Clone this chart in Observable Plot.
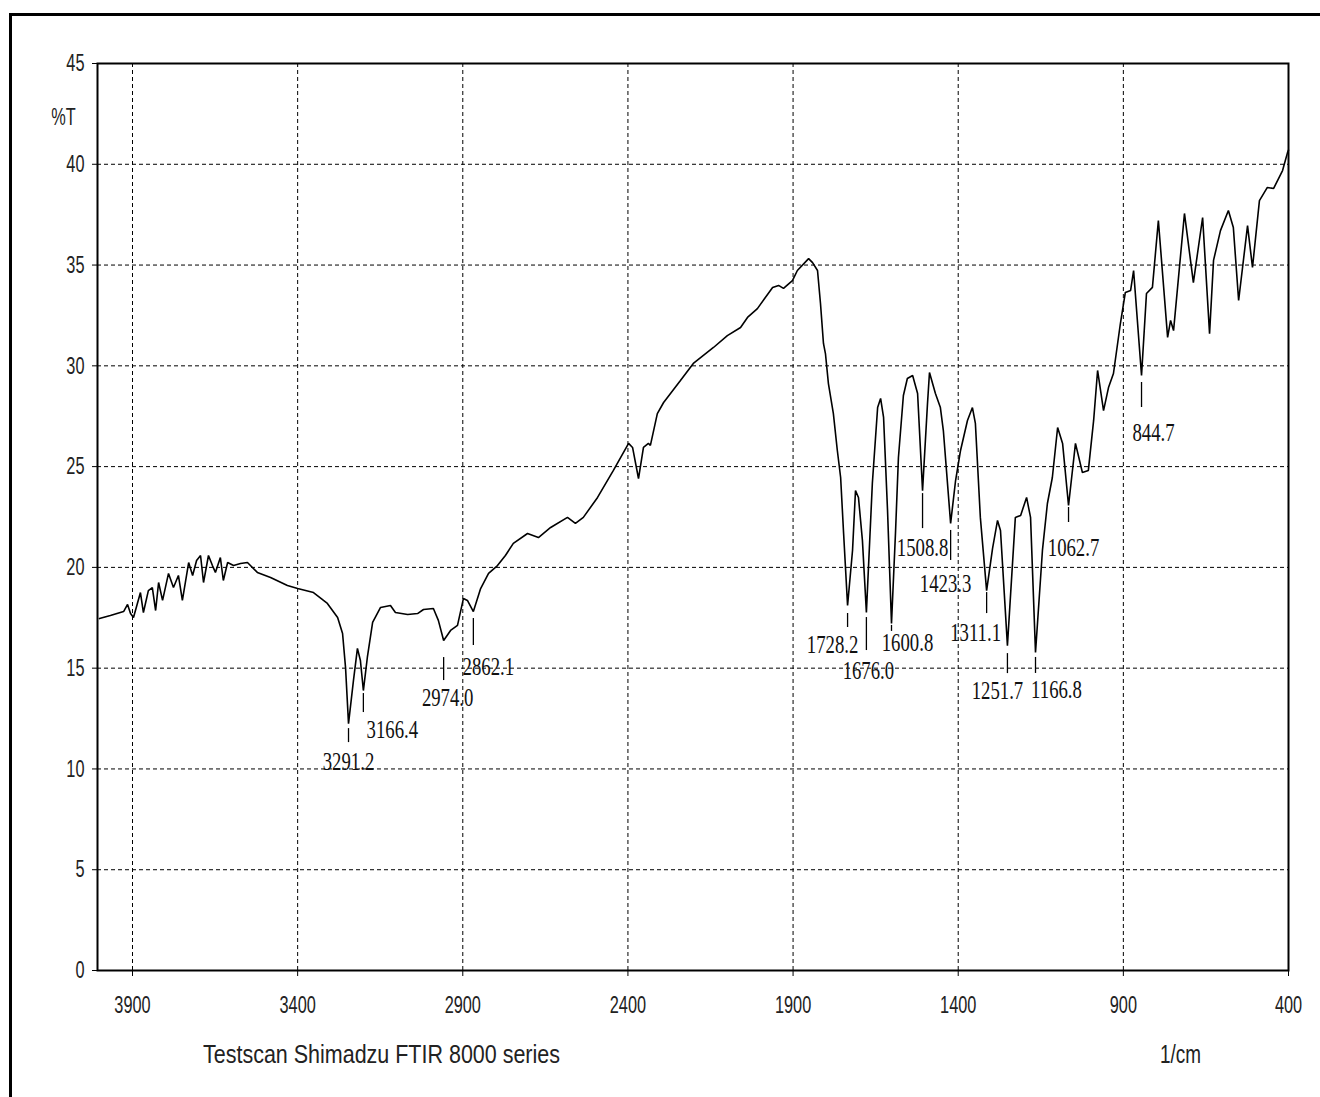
<!DOCTYPE html>
<html><head><meta charset="utf-8">
<script src="https://cdn.jsdelivr.net/npm/d3@7"></script>
<script src="https://cdn.jsdelivr.net/npm/@observablehq/plot@0.6"></script>
<style>
html,body{margin:0;padding:0;background:#fff;overflow:hidden;width:1320px;height:1097px;}
#frame{position:absolute;left:9px;top:13px;width:1400px;height:1200px;border-left:3px solid #000;border-top:3px solid #000;}
#chart{position:absolute;left:0;top:0;}
#chart svg{display:block;}
.cap{position:absolute;font-family:"Liberation Sans",Arial,sans-serif;font-size:25px;color:#222;transform-origin:0 50%;white-space:nowrap;line-height:1;}
</style></head><body>
<div id="frame"></div>
<div id="chart"></div>
<div class="cap" id="cap1" style="left:203px;top:1042px">Testscan Shimadzu FTIR 8000 series</div>
<div class="cap" id="cap2" style="left:1160px;top:1042px">1/cm</div>
<script>
const wavenumber = [4000,3967,3927,3915,3906,3897,3876,3867,3852,3840,3830,3821,3809,3791,3776,3761,3749,3730,3718,3706,3694,3685,3670,3658,3649,3634,3625,3612,3594,3573,3552,3522,3482,3431,3400,3352,3310,3279,3264,3255,3246,3231,3219,3210,3201,3189,3173,3149,3119,3104,3067,3037,3019,2989,2974,2958,2937,2916,2898,2886,2868,2846,2822,2795,2771,2747,2704,2671,2634,2583,2559,2535,2492,2444,2398,2386,2368,2353,2338,2332,2311,2292,2241,2202,2141,2099,2059,2038,2008,1962,1944,1929,1902,1887,1853,1841,1826,1817,1808,1802,1793,1778,1766,1756,1747,1735,1720,1711,1702,1690,1678,1660,1644,1635,1626,1614,1602,1590,1581,1566,1554,1538,1523,1508,1493,1487,1469,1454,1445,1423,1408,1393,1372,1357,1348,1333,1314,1296,1281,1272,1251,1227,1211,1193,1181,1166,1145,1130,1115,1099,1084,1066,1045,1024,1006,990,978,960,945,930,909,894,878,869,845,830,812,794,766,757,748,715,688,660,639,627,606,582,567,551,524,509,488,464,445,418,403,400];
const transmittance = [17.46,17.61,17.81,18.16,17.71,17.51,18.75,17.76,18.85,19.00,17.86,19.25,18.36,19.70,19.00,19.60,18.36,20.24,19.60,20.34,20.59,19.25,20.59,20.09,19.75,20.49,19.35,20.24,20.09,20.19,20.24,19.75,19.50,19.10,18.95,18.75,18.21,17.51,16.72,15.03,12.25,14.39,15.98,15.38,13.89,15.53,17.27,18.01,18.11,17.76,17.66,17.71,17.91,17.96,17.37,16.37,16.87,17.12,18.46,18.36,17.81,18.95,19.70,20.09,20.59,21.19,21.68,21.48,21.98,22.48,22.18,22.48,23.47,24.81,26.15,25.95,24.41,25.95,26.15,26.05,27.63,28.18,29.27,30.12,30.91,31.50,31.90,32.40,32.84,33.89,33.99,33.84,34.23,34.73,35.32,35.12,34.73,33.09,31.11,30.61,29.12,27.63,25.80,24.46,21.68,18.11,20.84,23.81,23.47,21.33,17.76,24.16,27.93,28.38,27.44,22.82,17.22,21.68,25.45,28.53,29.37,29.52,28.63,23.81,28.13,29.67,28.63,27.93,26.79,22.18,24.31,25.80,27.29,27.93,27.14,22.48,18.85,20.94,22.33,21.83,16.12,22.48,22.58,23.47,22.48,15.78,20.84,23.17,24.46,26.94,26.15,23.07,26.15,24.71,24.81,27.29,29.77,27.78,28.92,29.62,32.10,33.64,33.74,34.73,29.52,33.59,33.89,37.21,31.41,32.25,31.75,37.56,34.13,37.36,31.60,35.23,36.71,37.71,36.86,33.24,36.96,34.88,38.20,38.85,38.80,39.69,40.58,40.70];
const xTicks = [3900,3400,2900,2400,1900,1400,900,400];
const yTicks = [0,5,10,15,20,25,30,35,40,45];
const peakLabels = ["3291.2","3166.4","2974.0","2862.1","1728.2","1676.0","1600.8","1508.8","1423.3","1311.1","1251.7","1166.8","1062.7","844.7"];
const peakWavenumber = [3246,3201,2958,2868,1735,1678,1602,1508,1423,1314,1251,1166,1066,845];
const peakTransmittance = [12.25,13.89,16.37,17.81,18.11,17.76,17.22,23.81,22.18,18.85,16.12,15.78,23.07,29.52];

// label placement (pixels): gap below minimum, tick length, text dx, text dy
const labelLayout = [[5,14,0,38],[3,19,29,39],[17,23,4,57],[7,27,15,55],[8,14,-15,40],[5,33,2,58],[2,6,16,20],[3,35,0,57],[7,30,-5,61],[2,21,-11,42],[8,20,-10,45],[5,16,21,38],[2,15,5,42],[7,25,12,57]];

const W = 1320, H = 1030, mL = 97, mR = 32, mT = 63, mB = 60;
const xDomain = [4006, 400], yDomain = [0, 45];
const kx = (xDomain[0] - xDomain[1]) / (W - mL - mR);
const ky = (yDomain[1] - yDomain[0]) / (H - mT - mB);

const spectrum = wavenumber.map((w, i) => ({w, t: transmittance[i]}));
const peaks = peakLabels.map((label, i) => {
  const [gap, len, dx, dy] = labelLayout[i];
  return {label, x: peakWavenumber[i], t: peakTransmittance[i], gap, len, dx, dy};
});

const chart = Plot.plot({
  width: W, height: H,
  marginLeft: mL, marginRight: mR, marginTop: mT, marginBottom: mB,
  x: {domain: xDomain},
  y: {domain: yDomain},
  style: {fontFamily: "'Liberation Sans', Arial, sans-serif", fontSize: "24px", color: "#000", background: "transparent"},
  marks: [
    Plot.ruleX(xTicks.filter(v => v !== 400), {stroke: "#000", strokeWidth: 1, strokeDasharray: "4,3"}),
    Plot.ruleY(yTicks.filter(v => v > 0 && v < 45), {stroke: "#000", strokeWidth: 1, strokeDasharray: "4,3"}),
    Plot.axisX({ticks: xTicks, tickSize: 6, tickPadding: 19, tickFormat: d => String(d), label: null, fill: "#222"}),
    Plot.axisY({ticks: yTicks, tickSize: 5, tickPadding: 8, tickFormat: d => String(d), label: null, fill: "#222"}),
    Plot.text(["%T"], {frameAnchor: "top-left", dx: -34, dy: 54, text: d => d, textAnchor: "middle", lineAnchor: "middle", fill: "#222"}),
    Plot.line(spectrum, {x: "w", y: "t", stroke: "#000", strokeWidth: 1.6, strokeLinejoin: "miter"}),
    Plot.ruleX(peaks, {x: "x", y1: d => d.t - d.gap * ky, y2: d => d.t - (d.gap + d.len) * ky, stroke: "#000", strokeWidth: 1.3}),
    Plot.text(peaks, {x: d => d.x - d.dx * kx, y: d => d.t - d.dy * ky, text: "label", textAnchor: "middle", lineAnchor: "middle", fontFamily: "'Liberation Serif', 'Times New Roman', serif", fontSize: 25, fill: "#111"}),
    Plot.frame({stroke: "#000", strokeWidth: 2})
  ]
});
document.getElementById("chart").appendChild(chart);

// horizontally condense text around its anchor point
function squeeze(t, sx) {
  let pre = "";
  const xa = t.getAttribute("x");
  if (xa !== null && /^-?[\d.]+$/.test(xa)) { pre = `translate(${xa},0)`; t.removeAttribute("x"); }
  const tr = t.getAttribute("transform") || "";
  t.setAttribute("transform", `${tr} ${pre} scale(${sx},1)`.trim());
}
chart.querySelectorAll("text").forEach(t => {
  const serif = t.closest('[font-family*="Serif"]');
  squeeze(t, serif ? 0.75 : 0.68);
});

function fit(id, target) {
  const el = document.getElementById(id);
  const w = el.getBoundingClientRect().width;
  el.style.transform = `scaleX(${target / w})`;
}
fit("cap1", 357);
fit("cap2", 41);
</script>
</body></html>
